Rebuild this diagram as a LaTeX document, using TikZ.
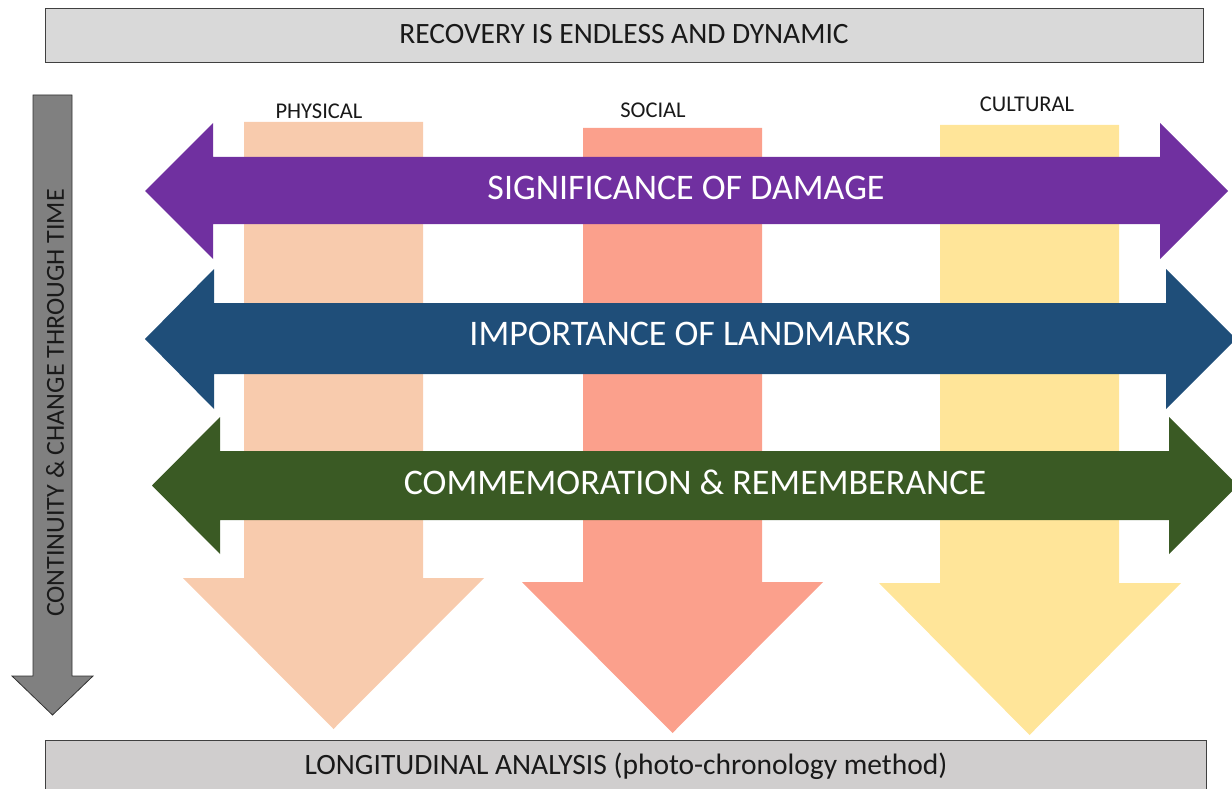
\documentclass[tikz,border=0pt]{standalone}
\usepackage{fontspec}
\setmainfont{Carlito}
\definecolor{dmgpurple}{HTML}{7030A0}
\definecolor{lmkblue}{HTML}{1F4E79}
\definecolor{memgreen}{HTML}{3A5A24}
\definecolor{physpeach}{HTML}{F8CBAD}
\definecolor{socsalmon}{HTML}{FBA08C}
\definecolor{cultyellow}{HTML}{FFE599}
\definecolor{timegray}{HTML}{808080}
\definecolor{topgray}{HTML}{D9D9D9}
\definecolor{botgray}{HTML}{D0CECE}
\begin{document}
\begin{tikzpicture}[x=1pt,y=-1pt,
  banner/.style={draw=black!75,line width=1pt},
  bannertext/.style={font=\fontsize{29.5}{31}\selectfont,text=black!90},
  bandtext/.style={font=\fontsize{36}{38}\selectfont,text=white},
  collabel/.style={font=\fontsize{22.5}{24}\selectfont,text=black!90},
  timetext/.style={font=\fontsize{26}{28}\selectfont,text=black!90,rotate=90}]
\useasboundingbox (0,0) rectangle (1232,789);

% header and footer bars
\draw[banner,fill=topgray] (45,9) rectangle (1203,63);
\node[bannertext] (recovery) at (624,34) {RECOVERY IS ENDLESS AND DYNAMIC};
\draw[banner,fill=botgray] (45,740) rectangle (1206,800);
\node[bannertext] (longitudinal) at (626,766) {LONGITUDINAL ANALYSIS (photo-chronology method)};

% time axis arrow
\draw[draw=black!80,line width=0.8pt,fill=timegray]
  (33,95) -- (72,95) -- (72,676) -- (93,676) -- (52.5,715) -- (12,676) -- (33,676) -- cycle;
\node[timetext] (time) at (55,403) {CONTINUITY \& CHANGE THROUGH TIME};

% vertical dimension arrows
\fill[physpeach] (244,122) -- (423,122) -- (423,578) -- (484,578) -- (333.5,729) -- (183,578) -- (244,578) -- cycle;
\fill[socsalmon] (583,128) -- (762,128) -- (762,582) -- (823,582) -- (672.5,733) -- (522,582) -- (583,582) -- cycle;
\fill[cultyellow] (940,125) -- (1119,125) -- (1119,583) -- (1181,583) -- (1029.5,735) -- (879,583) -- (940,583) -- cycle;
\node[collabel] (physical) at (319,111) {PHYSICAL};
\node[collabel] (social) at (653,110) {SOCIAL};
\node[collabel] (cultural) at (1027,104) {CULTURAL};

% horizontal theme arrows
\fill[dmgpurple] (145,191) -- (213,123) -- (213,157) -- (1160,157) -- (1160,123) -- (1228,191)
  -- (1160,259) -- (1160,224) -- (213,224) -- (213,259) -- cycle;
\node[bandtext] (damage) at (686,188) {SIGNIFICANCE OF DAMAGE};

\fill[lmkblue] (145,339) -- (214,269) -- (214,303) -- (1166,303) -- (1166,269) -- (1236,339)
  -- (1166,409) -- (1166,374) -- (214,374) -- (214,409) -- cycle;
\node[bandtext] (landmarks) at (690,334) {IMPORTANCE OF LANDMARKS};

\fill[memgreen] (152,485.5) -- (220,417) -- (220,451) -- (1169,451) -- (1169,417) -- (1238,485.5)
  -- (1169,554) -- (1169,520) -- (220,520) -- (220,554) -- cycle;
\node[bandtext] (commemoration) at (695,482) {COMMEMORATION \& REMEMBERANCE};
\end{tikzpicture}
\end{document}
